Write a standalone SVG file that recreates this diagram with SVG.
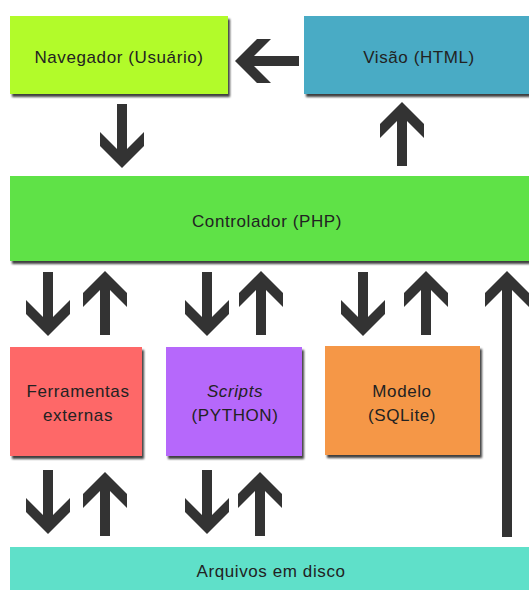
<svg xmlns="http://www.w3.org/2000/svg" width="529" height="590" viewBox="0 0 529 590">
<defs>
<filter id="sh" x="-5%" y="-10%" width="115%" height="130%">
<feDropShadow dx="2" dy="3" stdDeviation="1.3" flood-color="#000" flood-opacity="0.75"/>
</filter>
<path id="down" d="M-5,0 H5 V45 L22,28 V42 L0,64 L-22,42 V28 L-5,45 Z"/>
<path id="up" d="M-5,64 H5 V19 L22,36 V22 L0,0 L-22,22 V36 L-5,19 Z"/>
</defs>
<style>
.box{filter:url(#sh)}
text{font-family:"Liberation Sans",Arial,sans-serif;font-size:17px;fill:#222;text-anchor:middle;letter-spacing:0.6px}
.arr{fill:#333}
</style>
<rect width="529" height="590" fill="#fff"/>
<g id="navegador"><rect class="box" x="10" y="16" width="218" height="78" fill="#b2fb2a"/><text x="119" y="63">Navegador (Usuário)</text></g>
<g id="visao"><rect class="box" x="304" y="16" width="230" height="78" fill="#4aabc5"/><text x="419" y="63">Visão (HTML)</text></g>
<g id="controlador"><rect class="box" x="10" y="176" width="524" height="85" fill="#5fe247"/><text x="267" y="227">Controlador (PHP)</text></g>
<g id="ferramentas"><rect class="box" x="10" y="347" width="132" height="109" fill="#fe6868"/><text x="78" y="397">Ferramentas</text><text x="78" y="421">externas</text></g>
<g id="scripts"><rect class="box" x="166" y="347" width="136" height="109" fill="#b667fb"/><text x="235" y="397" font-style="italic">Scripts</text><text x="235" y="421">(PYTHON)</text></g>
<g id="modelo"><rect class="box" x="325" y="346" width="155" height="109" fill="#f59747"/><text x="402" y="397">Modelo</text><text x="402" y="421">(SQLite)</text></g>
<g id="arquivos"><rect x="10" y="547" width="524" height="50" fill="#5fe0c9"/><text x="271" y="577">Arquivos em disco</text></g>
<g id="connectors" class="arr">
<use href="#down" transform="translate(299,61) rotate(90)"/>
<use href="#down" x="122" y="104"/>
<use href="#up" x="402" y="102"/>
<use href="#down" x="48" y="272"/>
<use href="#up" x="105" y="271"/>
<use href="#down" x="207" y="272"/>
<use href="#up" x="261" y="271"/>
<use href="#down" x="363" y="272"/>
<use href="#up" x="426" y="271"/>
<path d="M485,293 L507,271 L529,293 V307 L512,290 V537 H502 V290 L485,307 Z"/>
<use href="#down" x="48" y="470"/>
<use href="#up" x="105" y="472"/>
<use href="#down" x="207" y="470"/>
<use href="#up" x="260" y="472"/>
</g>
</svg>
